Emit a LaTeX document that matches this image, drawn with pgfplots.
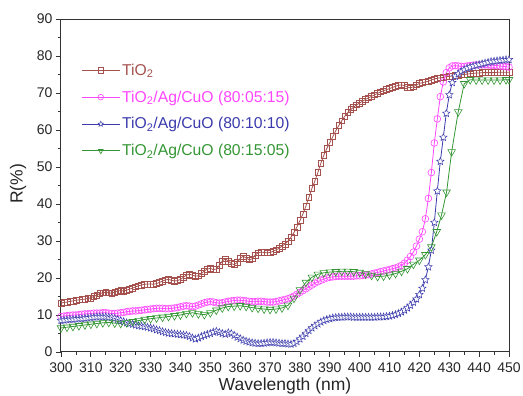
\documentclass[border=0pt]{standalone}
\usepackage{fontspec}
\setmainfont{Liberation Sans}
\usepackage{pgfplots}
\pgfplotsset{compat=1.18}
\usetikzlibrary{calc}
\definecolor{cbrown}{RGB}{165,82,78}
\definecolor{cpink}{RGB}{255,70,255}
\definecolor{cblue}{RGB}{58,58,172}
\definecolor{cgreen}{RGB}{52,150,52}
\pgfdeclareplotmark{ostar}{%
  \pgfpathmoveto{\pgfpointpolar{90}{\pgfplotmarksize}}%
  \pgfpathlineto{\pgfpointpolar{126}{0.45\pgfplotmarksize}}%
  \pgfpathlineto{\pgfpointpolar{162}{\pgfplotmarksize}}%
  \pgfpathlineto{\pgfpointpolar{198}{0.45\pgfplotmarksize}}%
  \pgfpathlineto{\pgfpointpolar{234}{\pgfplotmarksize}}%
  \pgfpathlineto{\pgfpointpolar{270}{0.45\pgfplotmarksize}}%
  \pgfpathlineto{\pgfpointpolar{306}{\pgfplotmarksize}}%
  \pgfpathlineto{\pgfpointpolar{342}{0.45\pgfplotmarksize}}%
  \pgfpathlineto{\pgfpointpolar{18}{\pgfplotmarksize}}%
  \pgfpathlineto{\pgfpointpolar{54}{0.45\pgfplotmarksize}}%
  \pgfpathclose
  \pgfusepathqfillstroke
}
\begin{document}
\begin{tikzpicture}
\begin{axis}[name=ax, scale only axis, width=448pt, height=333pt,
  xmin=300, xmax=450, ymin=0, ymax=90,
  xtick={300,310,...,450}, ytick={0,10,...,90},
  minor x tick num=1, minor y tick num=1,
  tick align=outside, major tick length=5pt, minor tick length=3pt,
  xtick pos=left, ytick pos=left,
  axis line style={line width=1pt, black!80},
  tick style={line width=0.8pt, black!80},
  ticklabel style={font=\fontsize{14}{14}\selectfont, text=black!85},
  xticklabel style={yshift=-2pt},
  /pgf/number format/assume math mode=true,
  /pgf/number format/1000 sep={},
  xlabel={Wavelength (nm)}, ylabel={R(\%)},
  label style={font=\fontsize{17.5}{17.5}\selectfont, text=black!85},
  xlabel style={at={(axis description cs:0.5,0)}, anchor=base, yshift=-39pt},
  ylabel style={at={(axis description cs:0,0.505)}, anchor=center, yshift=43pt},
  legend style={draw=none, fill=none, at={(0.045,0.872)}, anchor=north west,
    font=\fontsize{15.7}{15.7}\selectfont, row sep=10pt, inner sep=0pt},
  legend cell align=left,
  legend image code/.code={\draw[mark repeat=2,mark phase=2, mark size=2.8pt] plot coordinates {(0pt,0pt) (19pt,0pt) (38pt,0pt)};},
  every axis plot/.append style={line width=0.8pt},
]
\addplot[cbrown, mark=square, mark size=2.9pt, mark options={solid, fill=white, line width=0.6pt}] coordinates {
(300,13.2)(301,13.4)(302,13.5)(303,13.7)(304,13.8)(305,14.0)(306,14.1)(307,14.2)(308,14.3)(309,14.5)
(310,14.6)(311,15.0)(312,15.4)(313,15.8)(314,16.0)(315,16.1)(316,16.0)(317,15.9)(318,16.2)(319,16.5)
(320,16.6)(321,16.5)(322,16.7)(323,17.0)(324,17.3)(325,17.6)(326,17.9)(327,18.1)(328,18.3)(329,18.4)
(330,18.4)(331,18.3)(332,18.5)(333,18.8)(334,19.2)(335,19.5)(336,19.6)(337,19.4)(338,19.2)(339,19.3)
(340,19.6)(341,20.2)(342,20.8)(343,21.0)(344,20.8)(345,20.5)(346,20.6)(347,21.2)(348,21.9)(349,22.4)
(350,22.6)(351,22.3)(352,22.4)(353,23.4)(354,24.6)(355,25.2)(356,24.6)(357,23.9)(358,23.6)(359,24.2)
(360,25.3)(361,25.9)(362,25.4)(363,24.9)(364,25.2)(365,26.2)(366,26.8)(367,27.0)(368,26.9)(369,26.8)
(370,26.9)(371,27.2)(372,27.6)(373,28.0)(374,28.6)(375,29.2)(376,30.0)(377,31.0)(378,32.3)(379,33.8)
(380,35.5)(381,37.3)(382,39.4)(383,41.8)(384,44.2)(385,46.2)(386,48.5)(387,51.0)(388,53.2)(389,55.0)
(390,56.6)(391,58.2)(392,59.8)(393,61.2)(394,62.5)(395,63.7)(396,64.7)(397,65.5)(398,66.2)(399,66.8)
(400,67.3)(401,67.8)(402,68.3)(403,68.7)(404,69.1)(405,69.5)(406,69.9)(407,70.3)(408,70.6)(409,70.9)
(410,71.2)(411,71.5)(412,71.8)(413,72.1)(414,72.2)(415,72.0)(416,71.6)(417,71.4)(418,71.7)(419,72.2)
(420,72.6)(421,72.8)(422,73.0)(423,73.2)(424,73.5)(425,73.8)(426,74.0)(427,74.1)(428,74.2)(429,74.4)
(430,74.5)(431,74.6)(432,74.7)(433,74.8)(434,74.9)(435,75.0)(436,75.1)(437,75.2)(438,75.3)(439,75.4)
(440,75.4)(441,75.5)(442,75.5)(443,75.5)(444,75.5)(445,75.5)(446,75.6)(447,75.6)(448,75.6)(449,75.6)(450,75.6)
};
\addlegendentry{\textcolor{cbrown}{TiO\textsubscript{2}}}
\addplot[cpink, mark=o, mark size=3.4pt, mark options={solid, fill=white, line width=0.6pt}] coordinates {
(300,9.6)(301,9.7)(302,9.8)(303,9.9)(304,10.0)(305,10.0)(306,10.1)(307,10.2)(308,10.3)(309,10.3)
(310,10.4)(311,10.5)(312,10.5)(313,10.5)(314,10.6)(315,10.6)(316,10.5)(317,10.4)(318,10.4)(319,10.5)
(320,10.6)(321,10.7)(322,10.9)(323,11.0)(324,11.1)(325,11.1)(326,11.2)(327,11.3)(328,11.4)(329,11.5)
(330,11.6)(331,11.7)(332,11.8)(333,11.8)(334,11.8)(335,11.7)(336,11.7)(337,11.8)(338,11.9)(339,12.0)
(340,12.2)(341,12.4)(342,12.5)(343,12.4)(344,12.3)(345,12.4)(346,12.7)(347,13.0)(348,13.3)(349,13.5)
(350,13.6)(351,13.5)(352,13.3)(353,13.2)(354,13.3)(355,13.5)(356,13.7)(357,13.8)(358,13.9)(359,14.0)
(360,14.0)(361,13.9)(362,13.8)(363,13.7)(364,13.6)(365,13.6)(366,13.7)(367,13.7)(368,13.6)(369,13.5)
(370,13.5)(371,13.5)(372,13.6)(373,13.8)(374,14.0)(375,14.2)(376,14.4)(377,14.7)(378,15.1)(379,15.6)
(380,16.1)(381,16.6)(382,17.1)(383,17.6)(384,18.1)(385,18.6)(386,19.0)(387,19.4)(388,19.7)(389,20.0)
(390,20.2)(391,20.3)(392,20.4)(393,20.5)(394,20.5)(395,20.5)(396,20.5)(397,20.5)(398,20.5)(399,20.6)
(400,20.6)(401,20.7)(402,20.8)(403,20.9)(404,21.1)(405,21.3)(406,21.5)(407,21.7)(408,21.9)(409,22.1)
(410,22.3)(411,22.5)(412,22.7)(413,23.0)(414,23.4)(415,24.0)(416,24.8)(417,25.8)(418,27.0)(419,28.6)
(420,30.5)(421,32.5)(422,36.0)(423,41.5)(424,48.5)(425,56.5)(426,63.0)(427,69.0)(428,73.0)(429,75.5)
(430,76.8)(431,77.3)(432,77.4)(433,77.3)(434,77.2)(435,77.2)(436,77.3)(437,77.4)(438,77.5)(439,77.6)
(440,77.6)(441,77.6)(442,77.6)(443,77.6)(444,77.5)(445,77.5)(446,77.4)(447,77.3)(448,77.2)(449,77.1)(450,77.0)
};
\addlegendentry{\textcolor{cpink}{TiO\textsubscript{2}/Ag/CuO (80:05:15)}}
\addplot[cblue, mark=ostar, mark size=3.9pt, mark options={solid, fill=white, line width=0.5pt}] coordinates {
(300,8.5)(301,8.6)(302,8.7)(303,8.8)(304,8.8)(305,8.9)(306,9.0)(307,9.0)(308,9.1)(309,9.2)
(310,9.3)(311,9.4)(312,9.5)(313,9.5)(314,9.5)(315,9.5)(316,9.4)(317,9.3)(318,9.1)(319,8.8)
(320,8.5)(321,8.2)(322,7.9)(323,7.7)(324,7.5)(325,7.3)(326,7.1)(327,7.0)(328,6.9)(329,6.7)
(330,6.5)(331,6.3)(332,6.0)(333,5.8)(334,5.5)(335,5.3)(336,5.1)(337,5.0)(338,4.9)(339,4.8)
(340,4.7)(341,4.6)(342,4.5)(343,4.2)(344,3.8)(345,3.5)(346,3.8)(347,4.2)(348,4.5)(349,4.8)
(350,5.0)(351,5.4)(352,5.6)(353,5.3)(354,5.0)(355,4.8)(356,5.2)(357,5.0)(358,4.5)(359,4.0)
(360,3.6)(361,3.2)(362,2.9)(363,2.7)(364,2.5)(365,2.4)(366,2.3)(367,2.3)(368,2.4)(369,2.5)
(370,2.6)(371,2.6)(372,2.5)(373,2.4)(374,2.3)(375,2.3)(376,2.2)(377,2.1)(378,2.3)(379,2.8)
(380,3.5)(381,4.2)(382,5.0)(383,5.8)(384,6.5)(385,7.1)(386,7.6)(387,8.1)(388,8.5)(389,8.8)
(390,9.0)(391,9.2)(392,9.3)(393,9.4)(394,9.4)(395,9.5)(396,9.5)(397,9.5)(398,9.4)(399,9.4)
(400,9.4)(401,9.4)(402,9.4)(403,9.4)(404,9.4)(405,9.4)(406,9.5)(407,9.5)(408,9.5)(409,9.6)
(410,9.7)(411,9.9)(412,10.1)(413,10.4)(414,10.8)(415,11.3)(416,11.9)(417,12.6)(418,13.4)(419,14.3)
(420,15.5)(421,17.2)(422,19.5)(423,23.0)(424,27.5)(425,35.0)(426,43.5)(427,51.5)(428,58.0)(429,64.5)
(430,69.5)(431,72.8)(432,74.5)(433,75.2)(434,75.8)(435,76.3)(436,76.7)(437,77.0)(438,77.3)(439,77.5)
(440,77.7)(441,77.9)(442,78.1)(443,78.3)(444,78.5)(445,78.6)(446,78.7)(447,78.8)(448,78.9)(449,79.0)(450,79.0)
};
\addlegendentry{\textcolor{cblue}{TiO\textsubscript{2}/Ag/CuO (80:10:10)}}
\addplot[cgreen, mark=triangle, mark size=4.4pt, mark options={solid, fill=white, line width=0.6pt, rotate=180}] coordinates {
(300,6.5)(302,6.7)(304,6.9)(306,7.1)(308,7.3)(310,7.5)(312,7.7)(314,7.9)(316,8.0)(318,7.8)
(320,7.7)(322,7.9)(324,8.2)(326,8.5)(328,8.8)(330,9.0)(332,9.2)(334,9.4)(336,9.6)(338,9.8)
(340,10.0)(342,10.4)(344,10.6)(346,10.3)(348,10.1)(350,10.6)(352,11.3)(354,11.9)(356,12.3)(358,12.4)
(360,12.5)(362,12.3)(364,12.0)(366,11.8)(368,11.6)(370,11.5)(372,11.6)(374,11.9)(376,12.6)(378,14.5)
(380,16.8)(382,18.8)(384,20.2)(386,21.0)(388,21.4)(390,21.6)(392,21.7)(394,21.8)(396,21.8)(398,21.7)
(400,21.5)(402,21.1)(404,20.7)(406,20.4)(408,20.5)(410,20.8)(412,21.2)(414,21.8)(416,22.5)(418,23.7)
(420,24.8)(422,26.3)(424,28.4)(425.8,32.5)(427.4,37.0)(429.1,43.2)(430.8,54.1)(433,64.9)(435,72.5)(437,73.6)
(439,73.5)(441,73.5)(443,73.5)(445,73.5)(447,73.5)(449,73.6)(450,73.6)
};
\addlegendentry{\textcolor{cgreen}{TiO\textsubscript{2}/Ag/CuO (80:15:05)}}
\end{axis}
\pgfresetboundingbox
\path[use as bounding box] ($(ax.south west)+(-61pt,-44pt)$) rectangle ($(ax.north east)+(14pt,19pt)$);
\end{tikzpicture}
\end{document}
